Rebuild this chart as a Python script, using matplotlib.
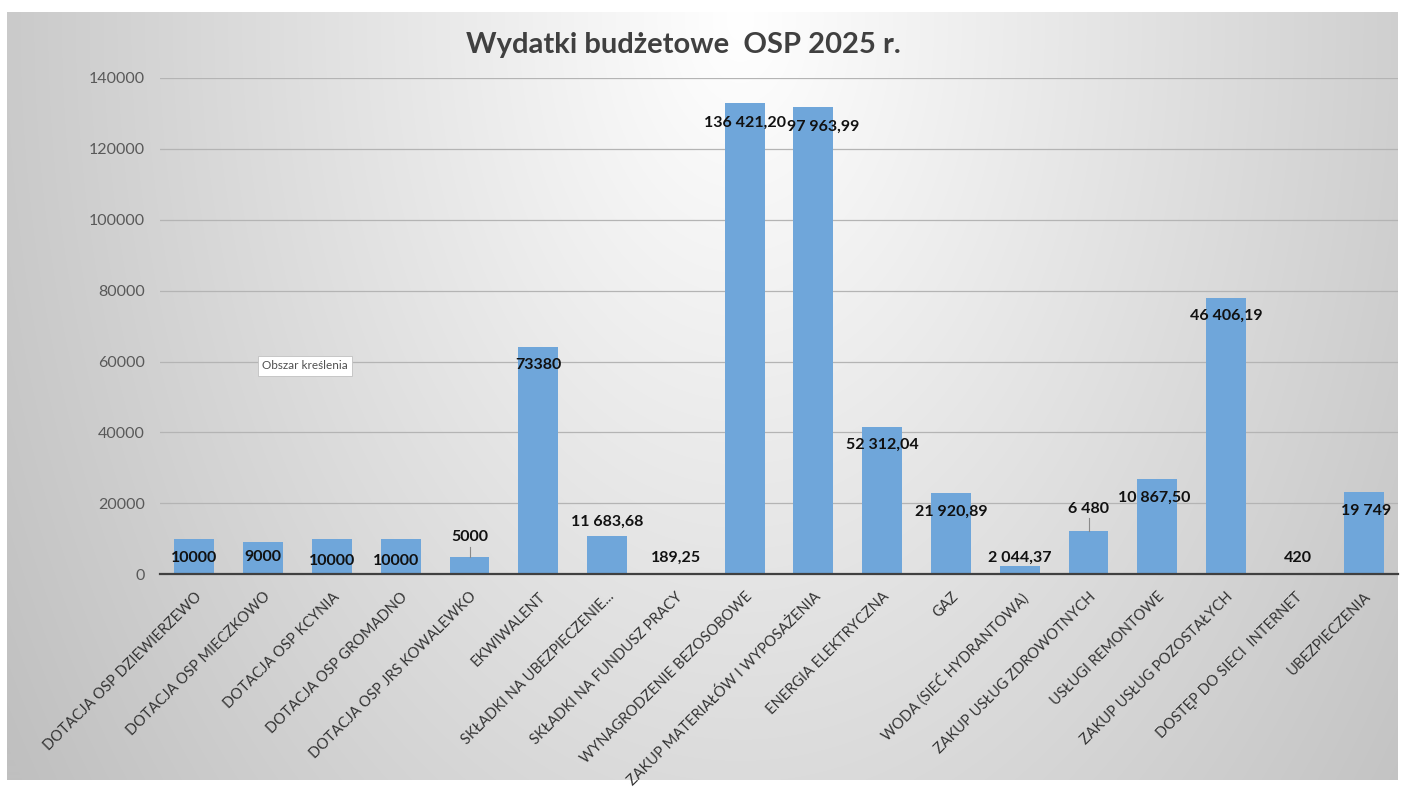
import matplotlib.pyplot as plt
import numpy as np

plt.rcParams['font.family'] = ['Lato', 'DejaVu Sans']

# dane
kategorie = ["DOTACJA OSP DZIEWIERZEWO", "DOTACJA OSP MIECZKOWO", "DOTACJA OSP KCYNIA",
             "DOTACJA OSP GROMADNO", "DOTACJA OSP JRS KOWALEWKO", "EKWIWALENT",
             "SKŁADKI NA UBEZPIECZENIE...", "SKŁADKI NA FUNDUSZ PRACY",
             "WYNAGRODZENIE BEZOSOBOWE", "ZAKUP MATERIAŁÓW I WYPOSAŻENIA",
             "ENERGIA ELEKTRYCZNA", "GAZ", "WODA (SIEĆ HYDRANTOWA)",
             "ZAKUP USŁUG ZDROWOTNYCH", "USŁUGI REMONTOWE", "ZAKUP USŁUG POZOSTAŁYCH",
             "DOSTĘP DO SIECI  INTERNET", "UBEZPIECZENIA"]
wartosci = [10000, 9000, 10000, 10000, 5000, 64000, 10800, 189.25, 132900, 131700,
            41500, 22800, 2300, 12300, 26900, 77800, 420, 23100]
etykiety = ["10000", "9000", "10000", "10000", "5000", "73380", "11 683,68", "189,25",
            "136 421,20", "97 963,99", "52 312,04", "21 920,89", "2 044,37", "6 480",
            "10 867,50", "46 406,19", "420", "19 749"]

# położenie etykiet danych (przesunięcie x w kategoriach, wysokość w jednostkach osi)
etyk_dx = [0, 0, 0, -0.07, 0, 0, 0, 0, 0, 0.14, 0, 0, 0, 0, -0.05, 0, 0.04, 0.04]
etyk_y = [4700, 4900, 3700, 3700, 10600, 59000, 14800, 4700, 127500, 126100,
          36400, 17600, 4700, 18500, 21600, 73000, 4600, 17800]

W, H = 1407, 787
fig = plt.figure(figsize=(W / 100, H / 100), dpi=100)
fig.patch.set_facecolor('white')

# tło z gradientem
bg = fig.add_axes([7 / W, 1 - 780 / H, (1398 - 7) / W, (780 - 12) / H])
yy, xx = np.mgrid[12:780, 7:1398]
d = np.sqrt(((xx - 740) / 720.0) ** 2 + ((yy - 20) / 1100.0) ** 2)
v = np.clip(255 - 52 * d, 192, 255) / 255.0
bg.imshow(np.dstack([v, v, v]), aspect='auto', extent=[0, 1, 0, 1])
bg.axis('off')

ax = fig.add_axes([160 / W, 212.7 / H, (1398 - 160) / W, (709 - 212.7) / H])
ax.patch.set_alpha(0)
x = np.arange(len(kategorie))
ax.bar(x, wartosci, width=0.58, color='#6fa6da', zorder=3)
ax.set_xlim(-0.5, len(kategorie) - 0.5)
ax.set_ylim(0, 140000)
ax.set_yticks(np.arange(0, 140001, 20000))
ax.yaxis.grid(True, color='#b4b4b4', linewidth=0.9, zorder=0)
ax.tick_params(axis='y', length=0, pad=11, labelsize=11.5, labelcolor='#595959')
ax.tick_params(axis='x', length=0, pad=11)
for s in ['top', 'right', 'left']:
    ax.spines[s].set_visible(False)
ax.spines['bottom'].set_color('#404040')
ax.spines['bottom'].set_linewidth(1.6)
ax.spines['bottom'].set_zorder(4)
ax.set_xticks(x)
ax.set_xticklabels(kategorie, rotation=45, ha='right', rotation_mode='anchor',
                   fontsize=10.5, color='#333333')

for i, (t, dx, ly) in enumerate(zip(etykiety, etyk_dx, etyk_y)):
    ax.text(i + dx, ly, t, ha='center', va='center', fontsize=11.5,
            fontweight='bold', color='#111111', zorder=5)

# linie odniesienia etykiet
for i, top in [(4, 7600), (13, 15900)]:
    ax.plot([i, i], [wartosci[i], top], color='#8a8a8a', linewidth=0.8, zorder=4)

fig.text(683 / W, 1 - 45 / H, "Wydatki budżetowe  OSP 2025 r.", ha='center', va='center',
         fontsize=21, fontweight='bold', color='#404040')

# dymek podpowiedzi
fig.text(262 / W, 1 - 366 / H, "Obszar kreślenia", ha='left', va='center', fontsize=8.5,
         color='#505050',
         bbox=dict(boxstyle='square,pad=0.35', facecolor='white', edgecolor='#c0c0c0',
                   linewidth=0.6))

fig.savefig('out.png', dpi=100)
